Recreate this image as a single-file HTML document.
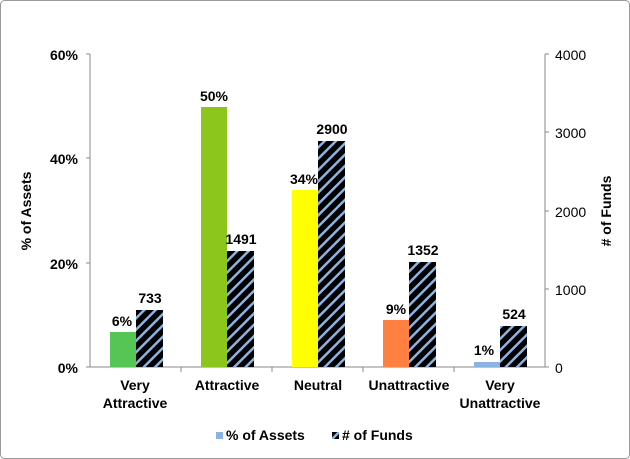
<!DOCTYPE html>
<html><head><meta charset="utf-8"><style>
html,body{margin:0;padding:0;background:#fff;}
svg{display:block;font-family:"Liberation Sans",Arial,sans-serif;}
</style></head><body>
<svg width="630" height="459" viewBox="0 0 630 459" xmlns="http://www.w3.org/2000/svg">
<defs>
<pattern id="h" patternUnits="userSpaceOnUse" width="8" height="8" patternTransform="rotate(45)">
<rect width="8" height="8" fill="#000"/>
<rect width="2.5" height="8" fill="#8db3e2"/>
</pattern>
</defs>
<rect x="0.5" y="0.5" width="629" height="458" rx="4" fill="#fff" stroke="#9a9a9a"/>
<!-- axes -->
<g stroke="#888" stroke-width="1">
<line x1="90" y1="54" x2="90" y2="367"/>
<line x1="545" y1="54" x2="545" y2="367"/>
<line x1="86" y1="367" x2="549" y2="367"/>
<line x1="86" y1="54" x2="90" y2="54"/>
<line x1="86" y1="158" x2="90" y2="158"/>
<line x1="86" y1="263" x2="90" y2="263"/>
<line x1="545" y1="54" x2="549" y2="54"/>
<line x1="545" y1="132" x2="549" y2="132"/>
<line x1="545" y1="211" x2="549" y2="211"/>
<line x1="545" y1="289" x2="549" y2="289"/>
<line x1="181" y1="367" x2="181" y2="372"/>
<line x1="272" y1="367" x2="272" y2="372"/>
<line x1="363" y1="367" x2="363" y2="372"/>
<line x1="454" y1="367" x2="454" y2="372"/>
</g>
<g font-size="14" font-weight="bold" fill="#000" text-anchor="end">
<text x="78" y="60">60%</text>
<text x="78" y="164">40%</text>
<text x="78" y="269">20%</text>
<text x="78" y="373">0%</text>
</g>
<g font-size="14" fill="#000">
<text x="555" y="60">4000</text>
<text x="555" y="138">3000</text>
<text x="555" y="217">2000</text>
<text x="555" y="295">1000</text>
<text x="555" y="373">0</text>
</g>
<text transform="translate(31,211) rotate(-90)" font-size="14" font-weight="bold" text-anchor="middle">% of Assets</text>
<text transform="translate(611,211) rotate(-90)" font-size="14" font-weight="bold" text-anchor="middle"># of Funds</text>
<!-- bars -->
<g>
<rect x="110" y="332" width="26" height="35" fill="#55c555"/>
<rect x="201" y="107" width="26" height="260" fill="#8cc61d"/>
<rect x="292" y="190" width="26" height="177" fill="#ffff00"/>
<rect x="383" y="320" width="26" height="47" fill="#ff8040"/>
<rect x="474" y="362" width="26" height="5" fill="#8db3e2"/>
<g fill="url(#h)">
<rect x="136" y="310" width="27" height="57"/>
<rect x="227" y="251" width="27" height="116"/>
<rect x="318" y="141" width="27" height="226"/>
<rect x="409" y="262" width="27" height="105"/>
<rect x="500" y="326" width="27" height="41"/>
</g>
</g>
<g font-size="14" font-weight="bold" text-anchor="middle">
<text x="122" y="326">6%</text>
<text x="150" y="303">733</text>
<text x="214" y="101">50%</text>
<text x="241" y="244">1491</text>
<text x="304" y="184">34%</text>
<text x="332" y="134">2900</text>
<text x="396" y="314">9%</text>
<text x="423" y="255">1352</text>
<text x="484" y="355">1%</text>
<text x="514" y="319">524</text>
</g>
<g font-size="14" font-weight="bold" text-anchor="middle">
<text x="135" y="390">Very</text>
<text x="135" y="408">Attractive</text>
<text x="227" y="390">Attractive</text>
<text x="318" y="390">Neutral</text>
<text x="409" y="390">Unattractive</text>
<text x="500" y="390">Very</text>
<text x="500" y="408">Unattractive</text>
</g>
<rect x="216" y="432" width="7" height="7" fill="#8db3e2"/>
<text x="226" y="440" font-size="14" font-weight="bold">% of Assets</text>
<rect x="332" y="432" width="7" height="7" fill="url(#h)"/>
<text x="342" y="440" font-size="14" font-weight="bold"># of Funds</text>
</svg>
</body></html>
